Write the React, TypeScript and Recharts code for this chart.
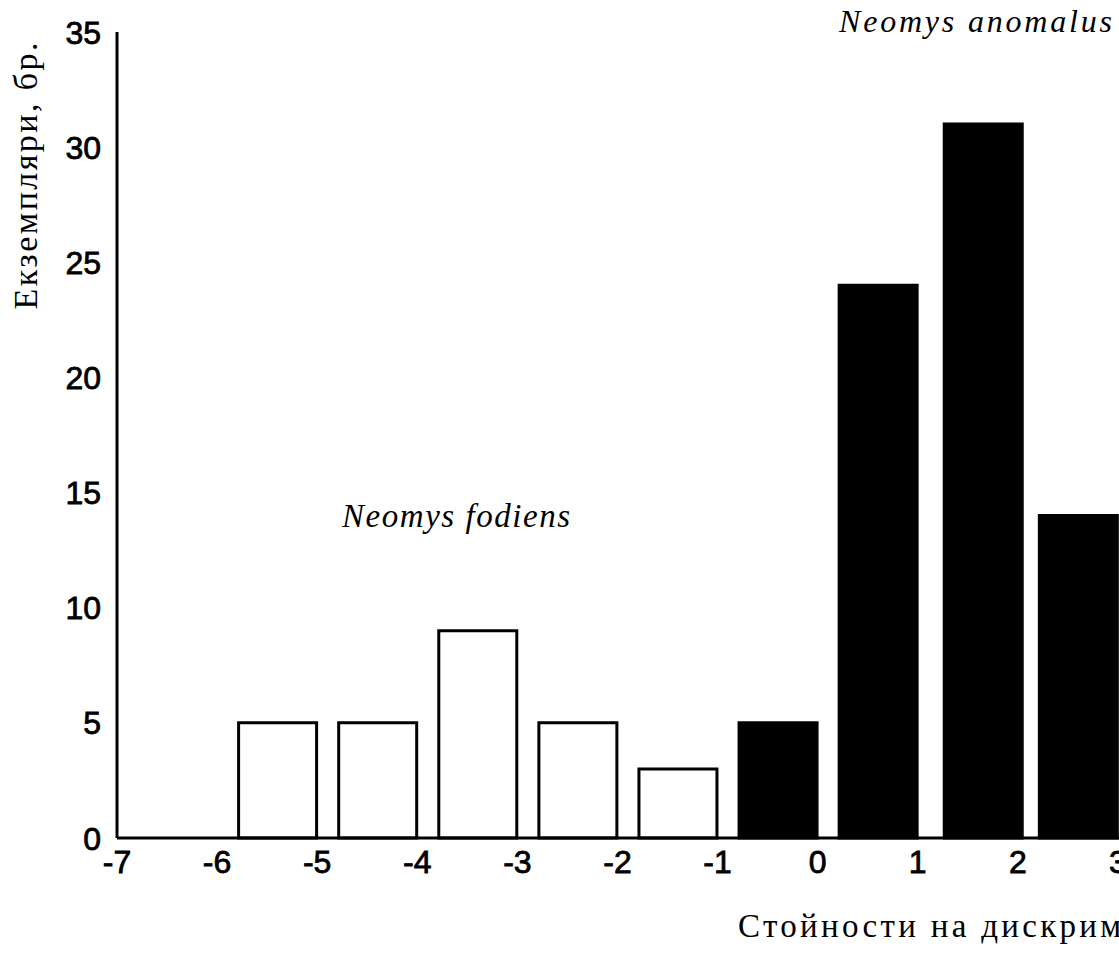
import React from 'react';
import { BarChart, Bar, XAxis, YAxis, Cell } from 'recharts';

// Bin centres (discriminant function values) and specimen counts
const binCenters = [-5.4, -4.4, -3.4, -2.4, -1.4, -0.4, 0.6, 1.65, 2.6];
const specimenCounts = [5, 5, 9, 5, 3, 5, 24, 31, 14];
const speciesGroup = ['fodiens', 'fodiens', 'fodiens', 'fodiens', 'fodiens', 'anomalus', 'anomalus', 'anomalus', 'anomalus'];
const xTicks = [-7, -6, -5, -4, -3, -2, -1, 0, 1, 2, 3, 4];
const yTicks = [0, 5, 10, 15, 20, 25, 30, 35];

const yLabel = 'Екземпляри, бр.';
const xLabel = 'Стойности на дискриминантната функция';
const labelAnomalus = 'Neomys anomalus';
const labelFodiens = 'Neomys fodiens';

const data = binCenters.map((x, i) => ({ x, count: specimenCounts[i], group: speciesGroup[i] }));

const serif = '"Liberation Serif", "Times New Roman", serif';
const sans = '"Liberation Sans", Arial, sans-serif';

const XTick = (props: any) => {
  const { x, y, payload } = props;
  return (
    <text x={x} y={y} dy="0.72em" textAnchor="middle" fontFamily={sans} fontSize={32} fill="#000" stroke="#000" strokeWidth={0.8}>
      {payload.value}
    </text>
  );
};

const YTick = (props: any) => {
  const { x, y, payload } = props;
  return (
    <text x={x} y={y} dy="0.36em" textAnchor="end" fontFamily={sans} fontSize={32} fill="#000" stroke="#000" strokeWidth={0.8}>
      {payload.value}
    </text>
  );
};

export default function App() {
  return (
    <div style={{ position: 'fixed', left: 0, top: 0, width: 1119, height: 955, overflow: 'hidden', background: '#fff' }}>
      <div style={{ position: 'absolute', left: 0, top: 0 }}>
        <BarChart
          width={1300}
          height={955}
          data={data}
          margin={{ top: 32, right: 82, bottom: 87, left: 57 }}
        >
          <XAxis
            dataKey="x"
            type="number"
            domain={[-7, 4]}
            ticks={xTicks}
            interval={0}
            allowDecimals={false}
            tickLine={false}
            tickSize={0}
            tickMargin={12}
            height={30}
            axisLine={{ stroke: '#000', strokeWidth: 3 }}
            tick={<XTick />}
          />
          <YAxis
            type="number"
            domain={[0, 35]}
            ticks={yTicks}
            interval={0}
            width={60}
            tickLine={false}
            tickSize={0}
            tickMargin={16}
            axisLine={{ stroke: '#000', strokeWidth: 3 }}
            tick={<YTick />}
          />
          <Bar dataKey="count" barSize={78} isAnimationActive={false} stroke="#000" strokeWidth={3}>
            {data.map((d, i) => (
              <Cell key={i} fill={d.group === 'fodiens' ? '#fff' : '#000'} />
            ))}
          </Bar>
        </BarChart>
      </div>
      <svg width={1119} height={955} style={{ position: 'absolute', left: 0, top: 0, pointerEvents: 'none' }}>
        <text
          transform="translate(37,176) rotate(-90)"
          textAnchor="middle"
          fontFamily={serif}
          fontSize={34}
          textLength={267}
          lengthAdjust="spacing"
          fill="#000"
        >
          {yLabel}
        </text>
        <text x={839} y={32} fontFamily={serif} fontStyle="italic" fontSize={32} textLength={273} lengthAdjust="spacing" fill="#000">
          {labelAnomalus}
        </text>
        <text x={342} y={527} fontFamily={serif} fontStyle="italic" fontSize={33} textLength={228} lengthAdjust="spacing" fill="#000">
          {labelFodiens}
        </text>
        <text x={738} y={937} fontFamily={serif} fontSize={33} letterSpacing={3.3} fill="#000">
          {xLabel}
        </text>
      </svg>
    </div>
  );
}
